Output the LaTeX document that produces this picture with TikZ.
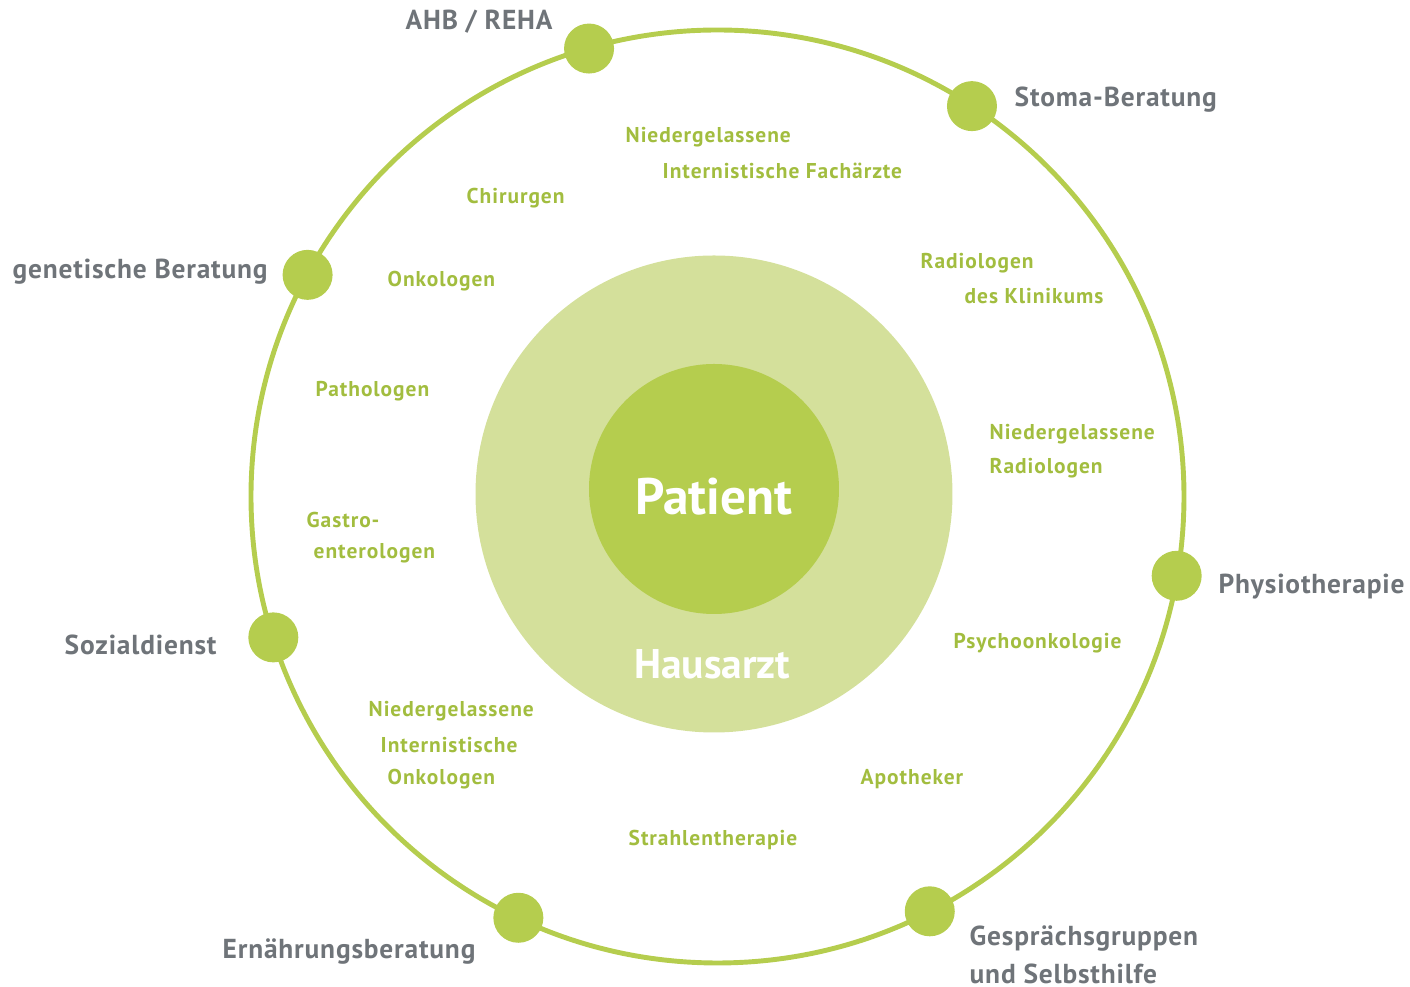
\documentclass[tikz,border=0pt]{standalone}
\usepackage{fontspec}
\setmainfont{PT Sans}
\newfontfamily\outerfont[LetterSpace=3]{PT Sans}
\newfontfamily\innerfont[LetterSpace=4.5]{PT Sans}
\usepackage{xcolor}
\usetikzlibrary{calc}
\definecolor{ring}{HTML}{B5CD4E}
\definecolor{pale}{HTML}{D4E09B}
\definecolor{leaf}{HTML}{A2BD3F}
\definecolor{slate}{HTML}{6F7479}
\tikzset{
  outer/.style={text=slate, font=\outerfont\bfseries\fontsize{7.8}{9.5}\selectfont, anchor=west, inner sep=0pt},
  inner/.style={text=leaf, font=\innerfont\bfseries\fontsize{6.1}{7.5}\selectfont, anchor=west, inner sep=0pt},
  dot/.style={circle, fill=ring, minimum size=0.5cm, inner sep=0pt}
}
\begin{document}
\begin{tikzpicture}
    \useasboundingbox (0,0) rectangle (14.10,9.87);
    % rings
    \coordinate (c) at (7.175,4.905);
    \fill[pale] (7.14,4.93) circle (2.385);
    \fill[ring] (7.14,4.98) circle (1.25);
    \draw[ring, line width=1.4pt] (c) circle (4.665);

    % dots on the ring
    \foreach \a [count=\i] in {106.0,56.9,151.6,-9.8,197.6,244.7,297.1} {
        \node[dot] (d\i) at ($(c)+(\a:4.66)$) {};
    }

    % centre
    \node[text=white, font=\bfseries\fontsize{14.6}{16}\selectfont] (patient) at (7.14,4.90) {Patient};
    \node[text=white, font=\bfseries\fontsize{11.8}{14}\selectfont] (hausarzt) at (7.12,3.23) {Hausarzt};

    % outer labels
    \node[outer] (ahb) at (4.05,9.65) {AHB / REHA};
    \node[outer] (stoma) at (10.14,8.87) {Stoma-Beratung};
    \node[outer] (gen) at (0.12,7.15) {genetische Beratung};
    \node[outer] (physio) at (12.18,4.00) {Physiotherapie};
    \node[outer] (sozial) at (0.64,3.42) {Sozialdienst};
    \node[outer] (ernaehr) at (2.22,0.35) {Ernährungsberatung};
    \node[outer] (gespr1) at (9.69,0.48) {Gesprächsgruppen};
    \node[outer] (gespr2) at (9.69,0.13) {und Selbsthilfe};

    % inner labels
    \node[inner] (nf1) at (6.25,8.50) {Niedergelassene};
    \node[inner] (nf2) at (6.62,8.16) {Internistische Fachärzte};
    \node[inner] (chir) at (4.66,7.89) {Chirurgen};
    \node[inner] (onko) at (3.87,7.06) {Onkologen};
    \node[inner] (rad1) at (9.20,7.24) {Radiologen};
    \node[inner] (rad2) at (9.64,6.91) {des Klinikums};
    \node[inner] (patho) at (3.15,5.96) {Pathologen};
    \node[inner] (nr1) at (9.89,5.53) {Niedergelassene};
    \node[inner] (nr2) at (9.89,5.19) {Radiologen};
    \node[inner] (gas1) at (3.06,4.67) {Gastro-};
    \node[inner] (gas2) at (3.13,4.34) {enterologen};
    \node[inner] (psych) at (9.53,3.44) {Psychoonkologie};
    \node[inner] (no1) at (3.68,2.76) {Niedergelassene};
    \node[inner] (no2) at (3.80,2.42) {Internistische};
    \node[inner] (no3) at (3.87,2.08) {Onkologen};
    \node[inner] (apo) at (8.60,2.08) {Apotheker};
    \node[inner] (strahl) at (6.28,1.47) {Strahlentherapie};
\end{tikzpicture}
\end{document}
